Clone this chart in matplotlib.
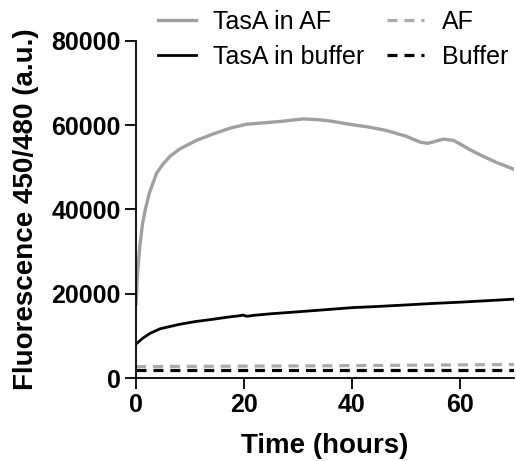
import matplotlib
matplotlib.use("Agg")
import matplotlib.pyplot as plt

plt.rcParams['font.family'] = ['Liberation Sans', 'DejaVu Sans']
plt.rcParams['lines.scale_dashes'] = False

# Data
t_af = [0, 0.3, 0.7, 1.2, 1.7, 2.5, 3.8, 5, 6.3, 8, 11.2, 14, 17.4, 20.5, 23, 26.7, 31, 34, 36,
        40.2, 43, 46.4, 50, 52.6, 54, 55.5, 56.9, 58.8, 60.5, 61.9, 64, 66.8, 69.8, 70]
tasa_af = [17500, 25000, 31200, 36500, 39900, 44000, 48600, 50800, 52600, 54300, 56400, 57800,
           59300, 60250, 60500, 60900, 61500, 61300, 61000, 60100, 59600, 58750, 57400, 56000,
           55700, 56200, 56700, 56400, 55200, 54150, 52800, 51150, 49650, 49500]
t_buf = [0, 0.5, 1.2, 2.6, 4.5, 8.1, 11, 14.3, 17, 19.3, 19.8, 20.5, 22, 25, 29.8, 35, 40, 45,
         50.1, 55, 60, 65, 69.8, 70]
tasa_buf = [8080, 8600, 9400, 10600, 11700, 12750, 13400, 13950, 14450, 14800, 14950, 14650,
            14900, 15250, 15700, 16200, 16700, 17000, 17350, 17700, 18000, 18350, 18700, 18700]
t_ctrl = [0, 35, 70]
af_ctrl = [2700, 2900, 3200]
buffer_ctrl = [1900, 1900, 1900]

xticks = [0, 20, 40, 60]
yticks = [0, 20000, 40000, 60000, 80000]

fig = plt.figure(figsize=(5.16, 4.61), dpi=100)
ax = fig.add_axes([136/516, 1-378/461, (514-136)/516, (378-41)/461])

gray = '#a0a0a0'
l1, = ax.plot(t_af, tasa_af, color=gray, lw=2.4, label='TasA in AF')
l2, = ax.plot(t_buf, tasa_buf, color='black', lw=2.0, label='TasA in buffer')
l3, = ax.plot(t_ctrl, af_ctrl, color='#aaaaaa', lw=2.3, ls=(0, (7.2, 5)), label='AF')
l4, = ax.plot(t_ctrl, buffer_ctrl, color='black', lw=2.3, ls=(0, (7.2, 5)), label='Buffer')

ax.set_xlim(0, 70)
ax.set_ylim(0, 80000)
ax.set_xticks(xticks)
ax.set_yticks(yticks)
for s in ['top', 'right']:
    ax.spines[s].set_visible(False)
for s in ['left', 'bottom']:
    ax.spines[s].set_linewidth(1.3)
ax.tick_params(direction='out', length=8, width=1.3, labelsize=18, pad=3)
for lab in ax.get_xticklabels() + ax.get_yticklabels():
    lab.set_fontweight('bold')
ax.set_xlabel('Time (hours)', fontsize=20, fontweight='bold', labelpad=11)
ax.set_ylabel('Fluorescence 450/480 (a.u.)', fontsize=20, fontweight='bold', labelpad=9)

fig.legend(handles=[l1, l2, l3, l4], ncol=2, loc='upper left',
           bbox_to_anchor=(158/516, 1-10/461), frameon=False, fontsize=18,
           handlelength=1.5, handletextpad=0.7, columnspacing=0.9,
           labelspacing=0.45, borderpad=0, borderaxespad=0)

fig.savefig('out.png', dpi=100)
